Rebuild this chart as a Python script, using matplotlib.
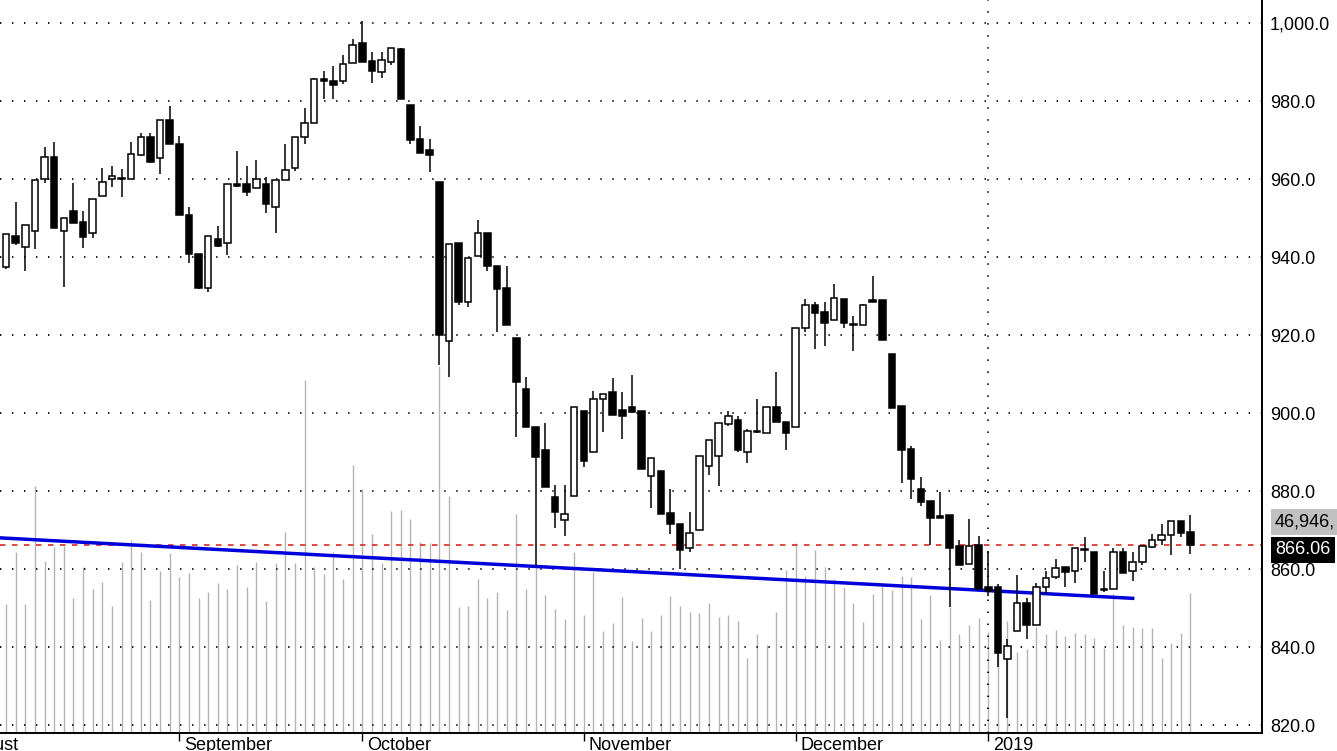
import matplotlib
matplotlib.use('Agg')
import matplotlib.pyplot as plt
import numpy as np
from matplotlib.ticker import FuncFormatter

plt.rcParams['font.family'] = ['Liberation Sans', 'DejaVu Sans']

# daily candles (first visible bar = 1)
opens = [937.4, 945.5, 942.6, 946.7, 960.0, 965.6, 946.7, 951.8, 949.0, 946.2,
         955.7, 959.9, 960.0, 959.9, 966.2, 970.9, 965.5, 975.1, 968.9, 950.9,
         940.9, 932.0, 944.7, 943.5, 958.8, 958.6, 957.6, 958.6, 952.9, 959.7,
         962.7, 970.9, 974.3, 985.6, 985.1, 985.1, 989.7, 994.8, 990.3, 987.4,
         990.1, 993.3, 979.1, 970.2, 967.4, 959.2, 918.6, 943.5, 928.4, 940.2,
         946.2, 937.6, 932.0, 919.2, 906.2, 896.5, 890.6, 878.4, 872.6, 878.8,
         900.5, 890.0, 903.5, 905.3, 900.9, 901.5, 900.5, 883.8, 885.1, 874.3,
         871.6, 865.3, 870.0, 886.5, 888.9, 897.2, 898.3, 890.0, 895.4, 894.8,
         901.5, 897.6, 896.5, 921.8, 927.7, 925.9, 923.9, 929.3, 922.7, 922.7,
         928.9, 929.1, 915.2, 901.7, 890.8, 880.5, 877.4, 873.6, 873.8, 866.0,
         861.4, 866.1, 855.5, 855.3, 836.9, 844.1, 851.4, 845.7, 855.4, 858.0,
         860.6, 859.6, 865.0, 864.3, 854.8, 854.9, 864.5, 859.4, 861.7, 865.7,
         867.4, 868.7, 872.2, 869.6]
highs = [946.0, 954.2, 948.1, 959.7, 968.3, 969.4, 950.1, 959.0, 951.8, 955.0,
         962.9, 963.4, 962.5, 969.4, 971.8, 971.8, 975.1, 978.7, 971.0, 952.9,
         940.9, 945.5, 948.0, 958.6, 967.2, 963.3, 964.9, 960.6, 959.7, 969.0,
         970.9, 978.3, 986.0, 987.8, 989.1, 991.8, 995.9, 1000.6, 992.5, 992.5,
         993.7, 993.5, 979.1, 973.7, 970.2, 959.2, 943.4, 943.5, 939.7, 949.4,
         946.2, 937.6, 937.8, 919.2, 909.2, 896.5, 897.4, 881.6, 881.6, 901.5,
         900.5, 905.6, 905.0, 909.0, 905.5, 909.8, 900.5, 888.4, 885.1, 880.5,
         871.6, 874.7, 888.9, 893.1, 897.4, 900.5, 899.2, 895.9, 903.6, 901.5,
         910.5, 897.6, 921.8, 929.3, 928.4, 928.4, 933.1, 929.3, 925.0, 928.0,
         935.1, 929.1, 915.2, 901.7, 891.5, 883.5, 877.4, 879.7, 873.8, 867.5,
         872.8, 868.5, 864.7, 856.3, 842.0, 858.4, 852.7, 856.5, 859.5, 862.7,
         860.6, 865.3, 868.1, 864.3, 859.5, 865.3, 865.5, 864.4, 866.0, 868.9,
         871.5, 872.2, 872.2, 873.8]
lows = [937.0, 943.1, 936.5, 942.0, 959.0, 947.5, 932.2, 948.8, 942.2, 945.0,
        955.7, 958.0, 955.3, 959.9, 966.0, 964.0, 961.2, 968.9, 950.8, 938.4,
        931.7, 931.1, 942.5, 940.5, 958.0, 955.6, 957.6, 951.4, 946.1, 959.7,
        962.1, 968.9, 974.3, 980.4, 980.4, 984.3, 989.7, 989.9, 984.5, 986.0,
        989.2, 980.4, 969.0, 966.8, 961.9, 912.2, 909.2, 927.7, 927.1, 940.2,
        936.4, 920.7, 922.6, 893.8, 896.4, 860.9, 881.0, 870.5, 868.6, 878.8,
        886.1, 890.0, 895.1, 899.4, 893.4, 900.0, 885.7, 875.6, 874.1, 869.0,
        860.0, 864.5, 870.0, 884.0, 881.4, 896.6, 890.0, 887.1, 895.0, 894.8,
        897.6, 890.5, 896.5, 920.7, 916.4, 917.3, 923.9, 921.7, 916.0, 922.7,
        928.5, 918.7, 901.4, 882.1, 878.0, 876.2, 866.1, 873.0, 850.3, 861.0,
        861.4, 855.0, 853.0, 835.0, 821.9, 844.1, 842.0, 845.7, 853.6, 857.5,
        855.3, 856.5, 861.7, 853.6, 854.0, 854.9, 859.1, 857.0, 861.0, 865.5,
        866.1, 863.6, 868.1, 863.8]
closes = [945.8, 943.5, 948.1, 959.7, 965.6, 947.5, 950.1, 948.8, 945.2, 955.0,
          959.3, 960.9, 960.0, 966.3, 970.9, 964.4, 975.1, 968.9, 950.8, 940.8,
          932.0, 945.5, 942.9, 958.6, 958.3, 956.8, 960.1, 953.5, 959.7, 962.4,
          970.9, 974.3, 985.6, 985.1, 984.2, 989.4, 994.4, 989.9, 987.7, 990.5,
          993.7, 980.4, 970.0, 966.8, 966.2, 919.9, 943.4, 928.6, 939.7, 946.2,
          937.6, 931.8, 922.6, 907.9, 896.4, 888.7, 881.0, 874.6, 874.1, 901.5,
          887.6, 903.5, 904.9, 899.4, 899.2, 900.2, 885.7, 888.4, 874.1, 871.6,
          864.9, 869.2, 888.9, 893.1, 897.4, 899.2, 890.5, 895.3, 895.2, 901.5,
          897.6, 894.8, 921.8, 927.7, 925.7, 923.1, 929.5, 923.0, 922.5, 927.7,
          928.5, 918.7, 901.4, 890.6, 883.0, 877.1, 873.0, 873.2, 865.5, 861.0,
          865.8, 855.0, 854.4, 838.6, 840.3, 851.4, 845.6, 855.5, 857.8, 860.2,
          859.3, 865.3, 864.8, 853.6, 854.6, 864.3, 859.1, 861.7, 865.8, 867.4,
          868.7, 872.2, 869.2, 866.06]
# volume in thousands
volumes = [43.2, 60.7, 43.2, 82.8, 57.6, 62.4, 62.7, 45.1, 55.7, 48.1,
           50.6, 42.5, 57.2, 64.6, 60.5, 44.5, 54.2, 60.2, 52.3, 53.7,
           45.1, 47.1, 50.3, 48.1, 56.1, 49.0, 57.3, 44.3, 57.0, 67.2,
           56.8, 118.4, 55.5, 53.2, 60.6, 51.5, 89.8, 81.8, 66.8, 57.0,
           74.4, 74.7, 71.8, 64.1, 63.5, 123.1, 79.4, 42.0, 42.6, 51.5,
           45.1, 47.1, 41.1, 73.4, 48.2, 55.6, 46.3, 41.5, 38.2, 60.6,
           39.5, 54.0, 34.1, 36.9, 45.4, 30.8, 38.6, 34.0, 39.5, 45.9,
           42.5, 40.4, 40.0, 43.4, 38.9, 39.5, 37.4, 24.9, 33.0, 29.4,
           40.4, 54.6, 63.5, 52.6, 61.3, 55.7, 51.4, 49.0, 43.6, 37.2,
           46.5, 49.2, 47.9, 52.6, 52.1, 38.0, 46.2, 31.1, 42.1, 33.0,
           36.1, 38.3, 33.8, 27.7, 37.5, 27.1, 27.9, 35.5, 33.0, 34.4,
           32.4, 33.3, 33.1, 31.8, 28.5, 46.4, 36.1, 35.5, 35.2, 35.2,
           24.9, 30.0, 33.3, 46.946]

month_pos = [-4, 19, 38, 61, 83, 103]
month_labels = ['August', 'September', 'October', 'November', 'December', '2019']
year_break = 103
trend_x = [0.4, 118.0]
trend_y = [868.0, 852.5]
last_price = 866.06
vol_label = '46,946,'
price_ticks = [820, 840, 860, 880, 900, 920, 940, 960, 980, 1000]

W, H = 1337, 751
fig = plt.figure(figsize=(W / 100, H / 100), dpi=100)
ax = fig.add_axes([0, 1 - 732.5 / H, 1262 / W, 732.5 / H])
axv = ax.twinx()
ax.set_zorder(2)
ax.patch.set_visible(False)

x = np.arange(1, len(opens) + 1)

# volume sticks in the background
axv.vlines(x, 0, volumes, color='#b4b4b4', lw=1.0)
axv.set_ylim(0, 246.0)
axv.set_yticks([])
for s in axv.spines.values():
    s.set_visible(False)

# dotted grid
dots = (0, (0.75, 5.9))
for v in price_ticks:
    ax.axhline(v, color='black', lw=1.3, ls=dots, zorder=0.5)
ax.axvline(year_break, color='black', lw=1.3, ls=dots, zorder=0.5)

ax.axhline(last_price, color='#e0281e', lw=1.2, ls=(0, (3.3, 3.9)), zorder=1.5)
ax.plot(trend_x, trend_y, color='#0000dc', lw=2.5, zorder=2.5)

o = np.array(opens)
c = np.array(closes)
up = c >= o
bottoms = np.minimum(o, c)
heights = np.maximum(np.abs(c - o), 0.25)
ax.vlines(x, lows, highs, color='black', lw=1.1, zorder=3)
ax.bar(x, heights, bottom=bottoms, width=0.68,
       color=np.where(up, 'white', 'black'), edgecolor='black', lw=1.1, zorder=4)

ax.spines['left'].set_visible(False)
ax.spines['top'].set_visible(False)
ax.spines['right'].set_linewidth(1.4)
ax.spines['bottom'].set_linewidth(1.4)

ax.yaxis.tick_right()
ax.set_yticks(price_ticks)
ax.yaxis.set_major_formatter(FuncFormatter(lambda v, p: f'{v:,.1f}'))
ax.tick_params(axis='y', length=0, pad=5.8, labelsize=13)

ax.set_xticks(month_pos)
ax.set_xticklabels([])
ax.tick_params(axis='x', length=5.8, width=1.0, direction='out')
for p, lab in zip(month_pos, month_labels):
    ax.annotate(lab, xy=(p, 0), xycoords=('data', 'axes fraction'),
                xytext=(5, -4), textcoords='offset pixels',
                ha='left', va='top', fontsize=13, annotation_clip=False)

# limits last: set_xticks would otherwise widen the view
ax.set_xlim(0.377, 131.43)
ax.set_ylim(818.1, 1005.9)

fig.text(1275 / W, 1 - 522 / H, vol_label, fontsize=13, ha='left', va='center',
         bbox=dict(facecolor='#c0c0c0', edgecolor='none', pad=3))
fig.text(1275 / W, 1 - 550 / H, f'{last_price:.2f}', fontsize=13, color='white',
         ha='left', va='center',
         bbox=dict(facecolor='black', edgecolor='none', pad=3))

fig.savefig('out.png', dpi=100)
